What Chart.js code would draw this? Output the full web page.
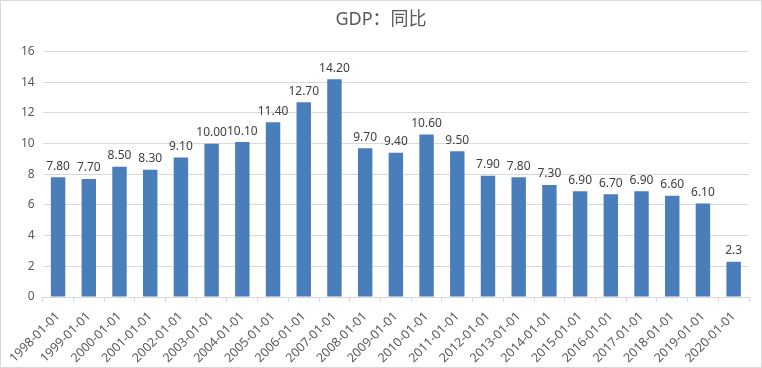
<!DOCTYPE html>
<html>
<head>
<meta charset="utf-8">
<script src="https://cdn.jsdelivr.net/npm/chart.js@4/dist/chart.umd.min.js"></script>
<style>
  body { margin: 0; background: #fff; }
  #wrap { width: 760px; height: 366px; border: 1px solid #d9d9d9; position: relative; }
</style>
</head>
<body>
<div id="wrap"><canvas id="chart" width="760" height="366"></canvas></div>
<script>
const categories = [
  '1998-01-01', '1999-01-01', '2000-01-01', '2001-01-01', '2002-01-01', '2003-01-01',
  '2004-01-01', '2005-01-01', '2006-01-01', '2007-01-01', '2008-01-01', '2009-01-01',
  '2010-01-01', '2011-01-01', '2012-01-01', '2013-01-01', '2014-01-01', '2015-01-01',
  '2016-01-01', '2017-01-01', '2018-01-01', '2019-01-01', '2020-01-01'
];
const gdpYoY = [7.8, 7.7, 8.5, 8.3, 9.1, 10.0, 10.1, 11.4, 12.7, 14.2, 9.7, 9.4,
  10.6, 9.5, 7.9, 7.8, 7.3, 6.9, 6.7, 6.9, 6.6, 6.1, 2.3];
const valueLabels = ['7.80', '7.70', '8.50', '8.30', '9.10', '10.00', '10.10', '11.40',
  '12.70', '14.20', '9.70', '9.40', '10.60', '9.50', '7.90', '7.80', '7.30', '6.90',
  '6.70', '6.90', '6.60', '6.10', '2.3'];
const yTicks = [0, 2, 4, 6, 8, 10, 12, 14, 16];

const FONT = "'Noto Sans', 'Noto Sans CJK SC', sans-serif";

// draw the value above every bar
const barLabels = {
  id: 'barLabels',
  afterDatasetsDraw(chart){
    const ctx = chart.ctx;
    const meta = chart.getDatasetMeta(0);
    ctx.save();
    ctx.font = '12px ' + FONT;
    ctx.fillStyle = '#404040';
    ctx.textAlign = 'center';
    ctx.textBaseline = 'bottom';
    meta.data.forEach(function(bar, i){
      ctx.fillText(valueLabels[i], bar.x, bar.y - 5);
    });
    ctx.restore();
  }
};

new Chart(document.getElementById('chart'), {
  type: 'bar',
  data: {
    labels: categories,
    datasets: [{
      data: gdpYoY,
      backgroundColor: '#4a7ebb',
      barPercentage: 0.47,
      categoryPercentage: 1.0
    }]
  },
  options: {
    responsive: false,
    animation: false,
    layout: { padding: { left: 12, right: 12, top: 2, bottom: 0 } },
    plugins: {
      legend: { display: false },
      tooltip: { enabled: false },
      title: {
        display: true,
        text: 'GDP：同比',
        color: '#595959',
        font: { size: 18, family: FONT, weight: 'normal' },
        padding: { top: 6, bottom: 21 }
      }
    },
    scales: {
      y: {
        min: 0,
        max: 16,
        afterBuildTicks(axis){
          axis.ticks = yTicks.map(v => ({ value: v }));
        },
        border: { display: false },
        grid: { color: '#d9d9d9', drawTicks: false },
        ticks: { color: '#595959', font: { size: 12, family: FONT }, padding: 8 }
      },
      x: {
        afterFit(axis){
          axis.height = 70;
        },
        border: { color: '#d9d9d9' },
        grid: { display: true, drawOnChartArea: false, color: '#d9d9d9', tickLength: 5, offset: true },
        ticks: {
          color: '#595959',
          font: { size: 12.5, family: FONT },
          maxRotation: 45,
          minRotation: 45,
          autoSkip: false,
          padding: 7
        }
      }
    }
  },
  plugins: [barLabels]
});
</script>
</body>
</html>
